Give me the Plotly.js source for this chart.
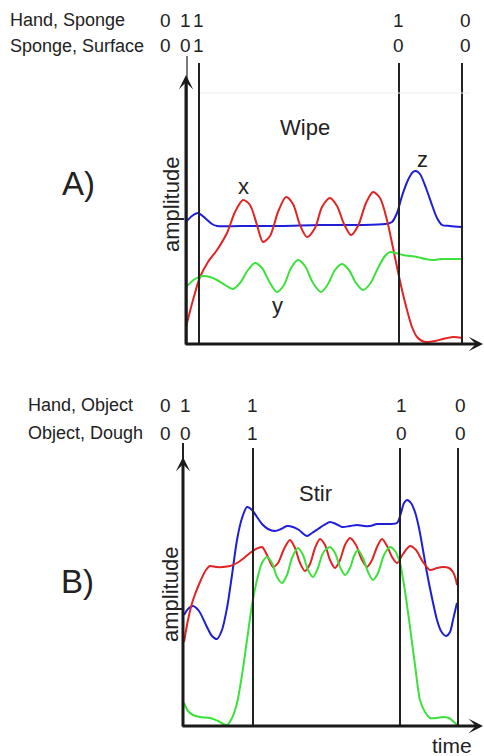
<!DOCTYPE html>
<html>
<head>
<meta charset="utf-8">
<script src="https://cdn.plot.ly/plotly-3.0.1.min.js"></script>
<style>html,body{margin:0;padding:0;background:#fff;}#chart{width:484px;height:756px;}</style>
</head>
<body>
<div id="chart"></div>
<script>
// ---------- Panel A (Wipe) ----------
var tBlueA = [0,6,12,19,26,31,54,94,134,174,199,206,211,216,222,227,230,234,240,246,251,256,264,276];
var zA     = [122,128,131,126,120,118,118,118,119,119,120,122,131,148,164,172,173,170,156,139,126,119,118,117];
var tRedA  = [0,7,14,22,31,41,49,57,64,71,77,84,92,100,107,114,121,129,136,144,151,158,165,172,180,187,194,201,206,211,216,221,226,231,236,241,249,257,267,276];
var xA     = [17,44,67,82,94,111,132,144,139,119,102,108,132,147,140,119,107,116,137,146,138,120,109,118,141,152,146,124,101,77,54,34,17,7,3,2,3,5,7,6];
var tGreenA= [0,9,17,24,31,39,47,54,62,69,76,84,91,98,105,112,119,127,135,142,149,156,163,170,177,184,192,199,204,210,217,231,239,247,255,264,276];
var yA     = [57,65,68,67,64,59,55,61,74,81,76,61,52,59,76,84,78,61,52,60,74,80,74,61,54,60,76,88,92,91,89,87,85,84,85,85,85];
var eventsA = [1,13,213,276];
var rowLabelsA = ['Hand, Sponge','Sponge, Surface'];
var statesA = [['0','1','1','1','0'],['0','0','1','0','0']];

// ---------- Panel B (Stir) ----------
var tBlueB = [1,5,10,16,23,29,34,39,44,49,54,59,64,69,74,79,85,92,98,104,110,116,124,129,135,141,147,153,159,167,174,181,187,194,200,207,214,218,221,224,228,232,236,240,244,249,254,258,263,267,270,273,274];
var zB     = [111,117,120,115,101,90,87,96,118,151,186,208,219,216,209,202,197,195,197,200,199,196,190,193,197,201,204,202,199,200,201,200,200,202,202,202,203,213,223,226,223,214,198,176,153,128,106,95,90,94,106,119,123];
var tRedB  = [1,5,10,17,23,27,33,40,47,54,61,67,73,79,84,90,95,101,107,112,117,122,127,132,137,142,147,152,157,162,167,173,179,184,189,194,199,204,209,214,220,227,233,240,247,254,260,266,270,273,274];
var xB     = [84,106,126,144,156,160,159,159,160,163,168,173,177,179,171,159,163,177,186,178,163,155,162,178,187,181,166,158,166,181,188,181,166,159,166,179,187,180,169,163,172,180,176,164,156,158,159,158,154,146,141];
var tGreenB= [1,5,10,17,27,35,44,49,54,59,64,69,74,79,84,89,94,99,104,109,115,120,125,130,135,140,147,152,157,162,167,171,175,180,185,190,195,201,207,212,217,221,224,227,232,237,242,247,254,260,266,272,274];
var yB     = [23,15,11,9,8,5,1,8,23,51,86,121,146,163,169,163,149,143,151,168,178,171,156,149,158,173,179,173,159,151,158,170,176,168,154,146,153,171,179,175,163,141,121,99,61,26,14,8,8,9,8,3,1];
var eventsB = [0,70,217,275];
var rowLabelsB = ['Hand, Object','Object, Dough'];
var statesB = [['0','1','1','1','0'],['0','0','1','0','0']];

var W = 484, H = 756;
var FONT = 'Liberation Sans, Arial, sans-serif';
var BLUE = 'rgb(30,30,215)', RED = 'rgb(225,35,35)', GREEN = 'rgb(60,225,60)';
function px(x){return x/W;}
function py(y){return 1 - y/H;}

function curve(t, v, color, xa, ya){
  return {x:t, y:v, xaxis:xa, yaxis:ya, mode:'lines', type:'scatter',
    line:{color:color, width:2, shape:'spline', smoothing:0.8}, hoverinfo:'skip', showlegend:false};
}
var data = [
  curve(tBlueA, zA, BLUE, 'x', 'y'),
  curve(tRedA, xA, RED, 'x', 'y'),
  curve(tGreenA, yA, GREEN, 'x', 'y'),
  curve(tBlueB, zB, BLUE, 'x2', 'y2'),
  curve(tRedB, xB, RED, 'x2', 'y2'),
  curve(tGreenB, yB, GREEN, 'x2', 'y2')
];

var shapes = [];
eventsA.forEach(function(t,i){
  shapes.push({type:'line', xref:'x', yref:'y', x0:t, x1:t, y0:0, y1:(i===0?288:281),
    line:{color:'#222', width:(i===0?1.2:2)}});
});
eventsB.forEach(function(t,i){
  shapes.push({type:'line', xref:'x2', yref:'y2', x0:t, x1:t, y0:0, y1:(i===0?283:278),
    line:{color:'#222', width:2}});
});
shapes.push({type:'line', xref:'x', yref:'y', x0:14, x1:284, y0:251, y1:251, line:{color:'#eeeeee', width:1}});

var annotations = [];
function arrow(xa, ya, x, y, ax, ay){
  annotations.push({xref:xa, yref:ya, axref:xa, ayref:ya, x:x, y:y, ax:ax, ay:ay, text:'',
    showarrow:true, arrowhead:3, arrowsize:0.8, arrowwidth:3, arrowcolor:'#1a1a1a', standoff:0, startstandoff:0});
}
arrow('x','y', 0, 269, 0, -2);
arrow('x','y', 297, 0, -2, 0);
arrow('x2','y2', 0, 269, 0, -2);
arrow('x2','y2', 300, 0, -2, 0);

function txt(s, x, y, size, opts){
  var a = {xref:'paper', yref:'paper', x:px(x), y:py(y), text:s, showarrow:false,
    font:{family:FONT, size:size, color:'#222'}, xanchor:'center', yanchor:'middle'};
  if(opts){ for(var k in opts) a[k]=opts[k]; }
  annotations.push(a);
}
var colsA = [165,185,198.5,398,465];
var rowYA = [20,46];
rowLabelsA.forEach(function(l,i){ txt(l, 8, rowYA[i], 18, {xanchor:'left'}); });
statesA.forEach(function(r,i){ r.forEach(function(s,j){ txt(s, colsA[j], rowYA[i], 19); }); });
var colsB = [165,185,252,401,460];
var rowYB = [405,433];
rowLabelsB.forEach(function(l,i){ txt(l, 26, rowYB[i], 18, {xanchor:'left'}); });
statesB.forEach(function(r,i){ r.forEach(function(s,j){ txt(s, colsB[j], rowYB[i], 19); }); });

txt('Wipe', 305, 127, 22);
txt('z', 422, 159, 22);
txt('x', 243, 187, 22);
txt('y', 277, 305, 22);
txt('A)', 78, 183, 33);
txt('amplitude', 171, 205, 22, {textangle:-90});
txt('Stir', 315, 493, 22);
txt('B)', 77, 581, 33);
txt('amplitude', 170, 595, 22, {textangle:-90});
txt('time', 452, 745, 21);

var hid = {visible:false, fixedrange:true};
var layout = {
  width:W, height:H, margin:{l:0,r:0,t:0,b:0},
  paper_bgcolor:'#fff', plot_bgcolor:'rgba(0,0,0,0)',
  showlegend:false,
  xaxis: Object.assign({domain:[0,1], range:[-186, 298], anchor:'y'}, hid),
  yaxis: Object.assign({domain:[0,1], range:[-412, 344], anchor:'x'}, hid),
  xaxis2: Object.assign({domain:[0,1], range:[-183, 301], anchor:'y2'}, hid),
  yaxis2: Object.assign({domain:[0,1], range:[-30, 726], anchor:'x2'}, hid),
  shapes:shapes, annotations:annotations
};
Plotly.newPlot('chart', data, layout, {staticPlot:true, displayModeBar:false});
</script>
</body>
</html>
